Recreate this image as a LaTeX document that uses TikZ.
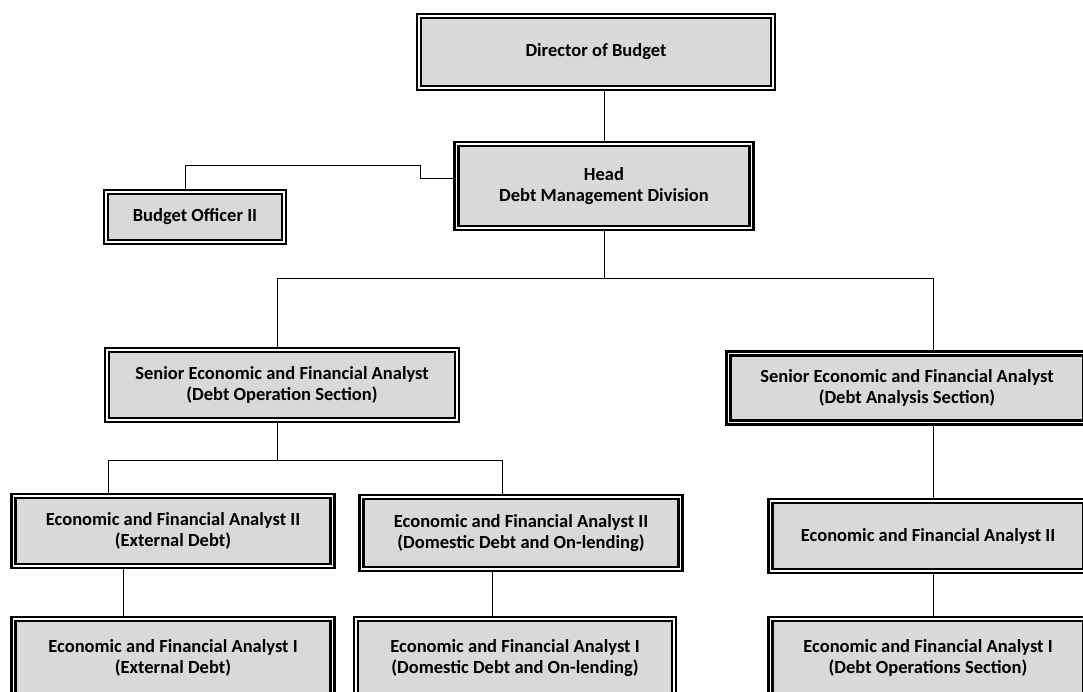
\documentclass[tikz,border=0pt]{standalone}
\usepackage{fontspec}
\setmainfont{Carlito}
\usetikzlibrary{positioning,calc}
\tikzset{
  orgbox/.style={draw=black,line width=2.8pt,double=white,double distance=1.1pt,
    fill=black!15,align=center,inner sep=2pt,
    font=\fontsize{18.5}{21}\selectfont\bfseries},
  link/.style={line width=0.8pt}
}

\begin{document}
\begin{tikzpicture}[x=1pt,y=-1pt]
  \useasboundingbox (0,0) rectangle (1083,692);
  \clip (0,0) rectangle (1083,692);
  % boxes: name / x / y / width / height / text
  \foreach \n/\x/\y/\w/\h/\lab in {
     dir/596/52/354/72/{Director of Budget},
     head/604/186/295/84/{Head\\Debt Management Division},
     bo/195/217/178/50/{Budget Officer II},
     sl/282/385/350/70/{Senior Economic and Financial Analyst\\(Debt Operation Section)},
     sr/907/388/357/69/{Senior Economic and Financial Analyst\\(Debt Analysis Section)},
     l3a/173/531/319/70/{Economic and Financial Analyst II\\(External Debt)},
     l3b/521/533/319/72/{Economic and Financial Analyst II\\(Domestic Debt and On-lending)},
     l3c/928/536/315/70/{Economic and Financial Analyst II},
     l4a/173/658/319/78/{Economic and Financial Analyst I\\(External Debt)},
     l4b/515/658/318/78/{Economic and Financial Analyst I\\(Domestic Debt and On-lending)},
     l4c/928/658/315/78/{Economic and Financial Analyst I\\(Debt Operations Section)}}
  { \node[orgbox,minimum width=\w pt,minimum height=\h pt] (\n) at (\x,\y) {\lab}; }

  % connectors
  \coordinate (bend) at (420,165);
  \coordinate (bus1) at (0,278);
  \coordinate (bus2) at (0,460);
  \draw[link] (dir.south -| head.north) -- (head.north);
  \draw[link] ([yshift=8]head.west) -| (bend) -| ([xshift=-10]bo.north);
  \draw[link] (head.south) -- (head.south |- bus1);
  \draw[link] ([xshift=-5]sl.north) |- ([xshift=26]sr.north |- bus1) -- ([xshift=26]sr.north);
  \draw[link] ([xshift=-5]sl.south) -- ([xshift=-5]sl.south |- bus2);
  \draw[link] ([xshift=-65]l3a.north) |- ([xshift=-19]l3b.north |- bus2) -- ([xshift=-19]l3b.north);
  \draw[link] ([xshift=26]sr.south) -- ([xshift=26]sr.south |- l3c.north);
  \draw[link] ([xshift=-50]l3a.south) -- ([xshift=-50]l3a.south |- l4a.north);
  \draw[link] ([xshift=-29]l3b.south) -- ([xshift=-29]l3b.south |- l4b.north);
  \draw[link] ([xshift=5]l3c.south) -- ([xshift=5]l3c.south |- l4c.north);
\end{tikzpicture}
\end{document}
